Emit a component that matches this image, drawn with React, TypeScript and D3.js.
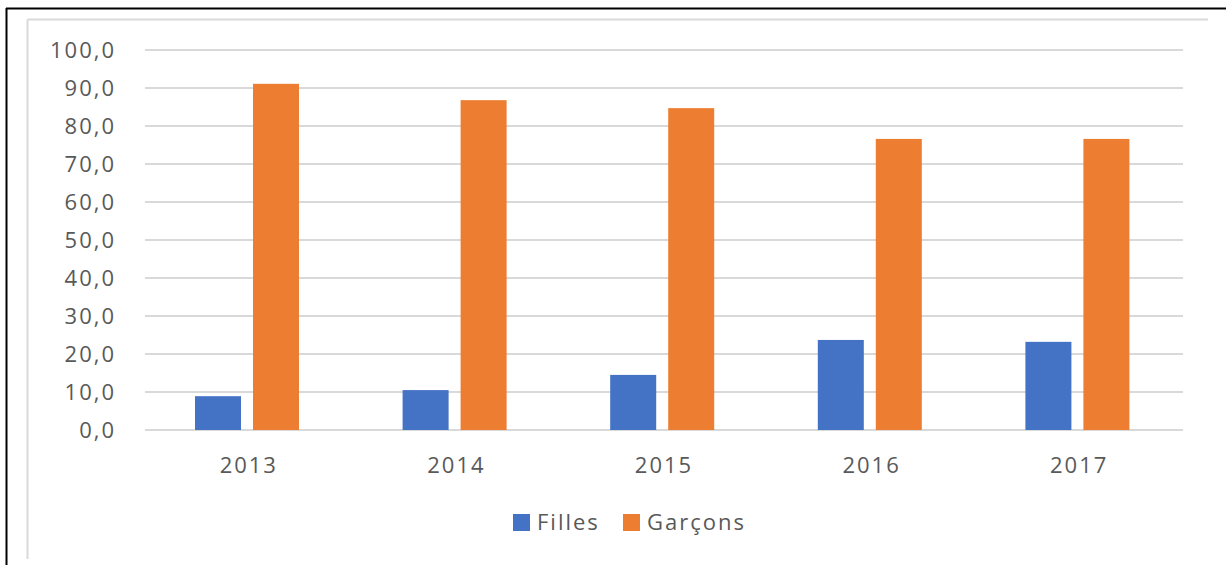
import React from 'react';
import * as d3 from 'd3';

const years = ['2013', '2014', '2015', '2016', '2017'];
const filles = [8.9, 10.5, 14.5, 23.7, 23.2];
const garcons = [91.1, 86.8, 84.7, 76.6, 76.6];
const yTicks = [0, 10, 20, 30, 40, 50, 60, 70, 80, 90, 100];
const seriesNames = ['Filles', 'Garçons'];
const colors = ['#4472C4', '#ED7D31'];

const W = 1226;
const H = 565;
const font = "'Open Sans', sans-serif";

const App = () => {
  const x = d3.scaleBand().domain(years).range([145, 1183]).paddingInner(0).paddingOuter(0);
  // bar pair sits in the middle half of each category
  const x1 = d3.scaleBand().domain(seriesNames).range([50, 154]).paddingInner(0.207).paddingOuter(0);
  const y = d3.scaleLinear().domain([0, 100]).range([430, 50]);
  const fmt = (v: number) => v.toFixed(1).replace('.', ',');
  const series = [filles, garcons];

  return (
    <svg width={W} height={H} style={{ position: 'absolute', left: 0, top: 0 }}>
      <rect x={0} y={0} width={W} height={H} fill="#fff" />
      {/* outer frame */}
      <line x1={6.5} y1={8} x2={6.5} y2={H} stroke="#000" strokeWidth={2} />
      <line x1={6} y1={8.5} x2={W} y2={8.5} stroke="#000" strokeWidth={2} />
      {/* chart area border */}
      <line x1={27.5} y1={19.5} x2={1208} y2={19.5} stroke="#d9d9d9" strokeWidth={2} />
      <line x1={27.5} y1={19.5} x2={27.5} y2={559} stroke="#d9d9d9" strokeWidth={2} />

      {yTicks.map(t => (
        <g key={t}>
          <line x1={145} x2={1183} y1={y(t)} y2={y(t)} stroke="#d9d9d9" strokeWidth={2} />
          <text x={116} y={y(t)} dy="0.36em" textAnchor="end" fontFamily={font} fontSize={22}
            letterSpacing={2} fill="#595959">{fmt(t)}</text>
        </g>
      ))}

      {years.map((yr, i) => (
        <g key={yr} transform={`translate(${x(yr)},0)`}>
          {series.map((s, j) => (
            <rect key={j} x={x1(seriesNames[j])} y={y(s[i])} width={x1.bandwidth()}
              height={y(0) - y(s[i])} fill={colors[j]} />
          ))}
          <text x={x.bandwidth() / 2} y={465} dy="0.36em" textAnchor="middle" fontFamily={font}
            fontSize={22} letterSpacing={2} fill="#595959">{yr}</text>
        </g>
      ))}

      {/* legend */}
      {seriesNames.map((n, j) => {
        const lx = j === 0 ? 513 : 623;
        return (
          <g key={n}>
            <rect x={lx} y={514} width={17} height={17} fill={colors[j]} />
            <text x={lx + 24} y={522.5} dy="0.36em" fontFamily={font} fontSize={22}
              letterSpacing={2} fill="#595959">{n}</text>
          </g>
        );
      })}
    </svg>
  );
};

export default App;
